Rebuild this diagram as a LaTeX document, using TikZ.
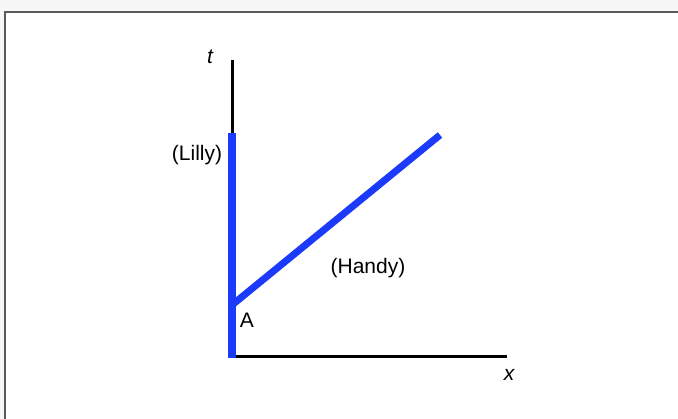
\documentclass[tikz,border=0pt]{standalone}
\usepackage{fontspec}
\setmainfont{Liberation Sans}
\usepackage{tikz}
\usetikzlibrary{calc}
\usepackage{xcolor}
\definecolor{lineblue}{RGB}{28,58,250}
\definecolor{framegray}{RGB}{90,90,90}
\tikzset{
    eixo/.style={draw=black, line width=3pt},
    mundo/.style={draw=lineblue, line width=8pt},
    rotulo/.style={font=\fontsize{21}{24}\selectfont, inner sep=0pt}
}

\begin{document}
\begin{tikzpicture}[x=1pt, y=1pt]
    \useasboundingbox (0,0) rectangle (678,419);
    \clip (0,0) rectangle (678,419);
    \fill[gray!6] (0,0) rectangle (678,419);
    \draw[draw=framegray, line width=1.5pt, fill=white] (5,407) rectangle (700,-20);
    % pontos
    \coordinate (O) at (232,62);
    \coordinate (T) at (232,359);
    \coordinate (X) at (507,62);
    \coordinate (L) at (232,286);
    \coordinate (A) at (232,114);
    \coordinate (H) at (440,284);
    % eixos
    \draw[eixo] (O) -- (T);
    \draw[eixo] (O) -- (X);
    % linhas de mundo
    \draw[mundo] ($(O)+(0,-1)$) -- (L);
    \draw[draw=lineblue, line width=7pt] (A) -- (H);
    % textos
    \node[rotulo] (tlab) at (210,362) {\itshape t};
    \node[rotulo] (xlab) at (509,44) {\itshape x};
    \node[rotulo] (lilly) at (197,264) {(Lilly)};
    \node[rotulo] (handy) at (368,151) {(Handy)};
    \node[rotulo] (alab) at (247,99) {A};
\end{tikzpicture}
\end{document}
